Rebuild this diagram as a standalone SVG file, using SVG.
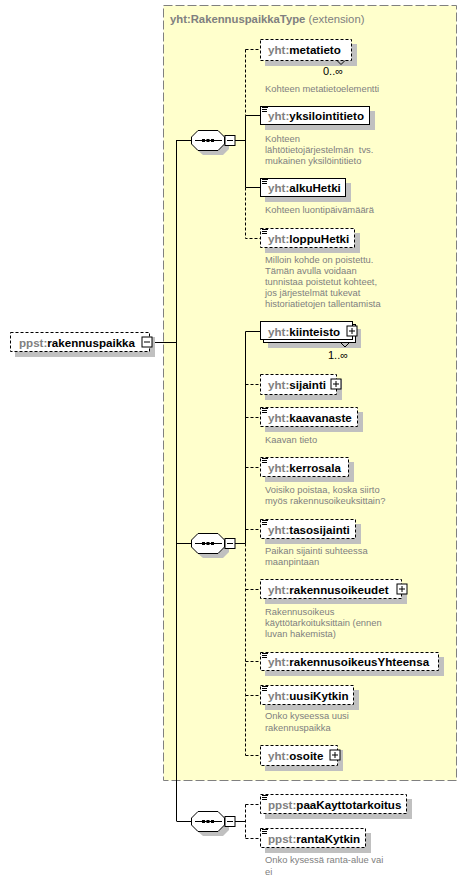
<svg xmlns="http://www.w3.org/2000/svg" width="467" height="881" viewBox="0 0 467 881">
<style>
.bg{fill:#ffffff}
.ext{fill:#ffffcc;stroke:#808080;stroke-width:1;stroke-dasharray:9,3}
.sh{fill:#c0c0c0;stroke:none}
.box{fill:#ffffff;stroke:#000;stroke-width:1}
.opt{fill:#ffffff;stroke:#000;stroke-width:1;stroke-dasharray:3,2}
.ln{fill:none;stroke:#000;stroke-width:1}
.dl{fill:none;stroke:#000;stroke-width:1;stroke-dasharray:3,2}
.nm{font-family:"Liberation Sans",Arial,sans-serif;font-size:11.6px;font-weight:bold;fill:#000}
.px{fill:#808080}
.ds{font-family:"Liberation Sans",Arial,sans-serif;font-size:9.4px;fill:#808080}
.mul{font-family:"Liberation Sans",Arial,sans-serif;font-size:11px;fill:#000}
.ttl{font-family:"Liberation Sans",Arial,sans-serif;font-size:11.3px;fill:#808080}
.ic{stroke:#000;stroke-width:1;fill:none}
</style>
<defs>
<g id="icon"><path class="ic" d="M2,1.5h6M2,3.5h5M2,5.5h5"/></g>
<g id="plus"><rect class="box" x="0.5" y="0.5" width="10" height="10"/><path class="ln" d="M2.5,5.5h6M5.5,2.5v6"/></g>
<g id="minus"><rect class="box" x="0.5" y="0.5" width="10" height="10"/><path class="ln" d="M2.5,5.5h6"/></g>
<g id="seq">
<polygon class="sh" points="203,5 223,5 229,12 229,19 223,25 203,25 196,19 196,12"/>
<polygon class="box" points="198,0.5 218,0.5 224.5,7 224.5,14 218,20.5 198,20.5 191.5,14 191.5,7"/>
<path class="ln" d="M195,10.5h27"/>
<rect x="202" y="9" width="3" height="3" fill="#000"/>
<rect x="206.5" y="9" width="3" height="3" fill="#000"/>
<rect x="211" y="9" width="3" height="3" fill="#000"/>
<use href="#minus" x="224.5" y="5"/>
</g>
</defs>
<rect class="bg" x="0" y="0" width="467" height="881"/>

<g id="extension">
<rect class="ext" x="163.5" y="5.5" width="293" height="775"/>
<text class="ttl" x="170" y="23"><tspan font-weight="bold">yht:RakennuspaikkaType</tspan> (extension)</text>
</g>

<g id="connectors">
<path class="ln" d="M152,342.5H176.5M176.5,140V821M176.5,140.5H191M176.5,543.5H191M176.5,821.5H191"/>
<path class="ln" d="M235,140.5H245.5M235,543.5H245.5M235,821.5H245.5"/>
<path class="dl" d="M245.5,49.5V115.5M245.5,49.5H260"/>
<path class="ln" d="M245.5,115.5V187.5M245.5,115.5H260M245.5,187.5H260"/>
<path class="dl" d="M245.5,187.5V238.5H260"/>
<path class="ln" d="M245.5,331.5V543.5M245.5,331.5H260"/>
<path class="dl" d="M245.5,543.5V755.5M245.5,384.5H260M245.5,417.5H260M245.5,467.5H260M245.5,529.5H260M245.5,589.5H260M245.5,661.5H260M245.5,695.5H260M245.5,755.5H260"/>
<path class="dl" d="M245.5,804.5V838.5M245.5,804.5H260M245.5,838.5H260"/>
</g>

<g id="rakennuspaikka">
<rect class="sh" x="15" y="337" width="140" height="20"/>
<rect class="opt" x="10.5" y="332.5" width="139" height="19"/>
<text class="nm" x="19" y="346.5"><tspan class="px">ppst:</tspan>rakennuspaikka</text>
<use href="#minus" x="141.5" y="336.5"/>
</g>

<g id="seq1"><use href="#seq" y="130"/></g>
<g id="seq2"><use href="#seq" y="533"/></g>
<g id="seq3"><use href="#seq" y="811"/></g>

<g id="metatieto">
<rect class="sh" x="265" y="44" width="92" height="22"/>
<rect class="opt" x="260.5" y="39.5" width="91" height="21"/>
<polyline class="ln" points="337,60.5 341,64.5 345,60.5"/>
<text class="nm" x="268" y="54"><tspan class="px">yht:</tspan>metatieto</text>
<text class="mul" x="323" y="75">0..∞</text>
<text class="ds" x="265" y="91.5">Kohteen metatietoelementti</text>
</g>

<g id="yksilointitieto">
<rect class="sh" x="265" y="111" width="110" height="19"/>
<rect class="box" x="260.5" y="106.5" width="109" height="18"/>
<use href="#icon" x="260" y="106"/>
<text class="nm" x="268" y="120"><tspan class="px">yht:</tspan>yksilointitieto</text>
<text class="ds" x="265" y="141.5">Kohteen</text>
<text class="ds" x="265" y="152.5">lähtötietojärjestelmän&#160; tvs.</text>
<text class="ds" x="265" y="163.5">mukainen yksilöintitieto</text>
</g>

<g id="alkuHetki">
<rect class="sh" x="265" y="183" width="86" height="19"/>
<rect class="box" x="260.5" y="178.5" width="85" height="18"/>
<use href="#icon" x="260" y="178"/>
<text class="nm" x="268" y="192"><tspan class="px">yht:</tspan>alkuHetki</text>
<text class="ds" x="265" y="213">Kohteen luontipäivämäärä</text>
</g>

<g id="loppuHetki">
<rect class="sh" x="265" y="233" width="95" height="20"/>
<rect class="opt" x="260.5" y="228.5" width="94" height="19"/>
<use href="#icon" x="260" y="228"/>
<text class="nm" x="268" y="242.5"><tspan class="px">yht:</tspan>loppuHetki</text>
<text class="ds" x="265" y="262.5">Milloin kohde on poistettu.</text>
<text class="ds" x="265" y="273.5">Tämän avulla voidaan</text>
<text class="ds" x="265" y="284.7">tunnistaa poistetut kohteet,</text>
<text class="ds" x="265" y="296">jos järjestelmät tukevat</text>
<text class="ds" x="265" y="307">historiatietojen tallentamista</text>
</g>

<g id="kiinteisto">
<rect class="sh" x="268" y="329" width="93" height="19"/>
<rect class="box" x="263.5" y="324.5" width="92" height="18"/>
<rect class="box" x="260.5" y="321.5" width="92" height="18"/>
<polyline class="ln" points="341,343 345,347 349,343"/>
<text class="nm" x="268" y="335.5"><tspan class="px">yht:</tspan>kiinteisto</text>
<use href="#plus" x="346.5" y="325.5"/>
<text class="mul" x="328" y="359">1..∞</text>
</g>

<g id="sijainti">
<rect class="sh" x="265" y="379" width="77" height="21"/>
<rect class="opt" x="260.5" y="374.5" width="76" height="20"/>
<text class="nm" x="268" y="389"><tspan class="px">yht:</tspan>sijainti</text>
<use href="#plus" x="330.5" y="378.5"/>
</g>

<g id="kaavanaste">
<rect class="sh" x="265" y="412" width="98" height="20"/>
<rect class="opt" x="260.5" y="407.5" width="97" height="19"/>
<use href="#icon" x="260" y="407"/>
<text class="nm" x="268" y="421.5"><tspan class="px">yht:</tspan>kaavanaste</text>
<text class="ds" x="265" y="442.5">Kaavan tieto</text>
</g>

<g id="kerrosala">
<rect class="sh" x="265" y="462" width="89" height="20"/>
<rect class="opt" x="260.5" y="457.5" width="88" height="19"/>
<use href="#icon" x="260" y="457"/>
<text class="nm" x="268" y="471.5"><tspan class="px">yht:</tspan>kerrosala</text>
<text class="ds" x="265" y="493">Voisiko poistaa, koska siirto</text>
<text class="ds" x="265" y="504">myös rakennusoikeuksittain?</text>
</g>

<g id="tasosijainti">
<rect class="sh" x="265" y="524" width="96" height="20"/>
<rect class="opt" x="260.5" y="519.5" width="95" height="19"/>
<use href="#icon" x="260" y="519"/>
<text class="nm" x="268" y="533.5"><tspan class="px">yht:</tspan>tasosijainti</text>
<text class="ds" x="265" y="554">Paikan sijainti suhteessa</text>
<text class="ds" x="265" y="565">maanpintaan</text>
</g>

<g id="rakennusoikeudet">
<rect class="sh" x="265" y="584" width="142" height="20"/>
<rect class="opt" x="260.5" y="579.5" width="141" height="19"/>
<text class="nm" x="268" y="593.5"><tspan class="px">yht:</tspan>rakennusoikeudet</text>
<use href="#plus" x="396.5" y="583.5"/>
<text class="ds" x="265" y="615">Rakennusoikeus</text>
<text class="ds" x="265" y="626">käyttötarkoituksittain (ennen</text>
<text class="ds" x="265" y="637">luvan hakemista)</text>
</g>

<g id="rakennusoikeusYhteensa">
<rect class="sh" x="265" y="657" width="179" height="19"/>
<rect class="opt" x="260.5" y="652.5" width="178" height="18"/>
<use href="#icon" x="260" y="652"/>
<text class="nm" x="268" y="666"><tspan class="px">yht:</tspan>rakennusoikeusYhteensa</text>
</g>

<g id="uusiKytkin">
<rect class="sh" x="265" y="690" width="94" height="20"/>
<rect class="opt" x="260.5" y="685.5" width="93" height="19"/>
<use href="#icon" x="260" y="685"/>
<text class="nm" x="268" y="699.5"><tspan class="px">yht:</tspan>uusiKytkin</text>
<text class="ds" x="265" y="719.3">Onko kyseessa uusi</text>
<text class="ds" x="265" y="730.5">rakennuspaikka</text>
</g>

<g id="osoite">
<rect class="sh" x="265" y="750" width="78" height="21"/>
<rect class="opt" x="260.5" y="745.5" width="77" height="20"/>
<text class="nm" x="268" y="760"><tspan class="px">yht:</tspan>osoite</text>
<use href="#plus" x="329.5" y="749.5"/>
</g>

<g id="paaKayttotarkoitus">
<rect class="sh" x="265" y="799" width="147" height="20"/>
<rect class="opt" x="260.5" y="794.5" width="146" height="19"/>
<use href="#icon" x="260" y="794"/>
<text class="nm" x="268" y="808.5"><tspan class="px">ppst:</tspan>paaKayttotarkoitus</text>
</g>

<g id="rantaKytkin">
<rect class="sh" x="265" y="833" width="106" height="20"/>
<rect class="opt" x="260.5" y="828.5" width="105" height="19"/>
<use href="#icon" x="260" y="828"/>
<text class="nm" x="268" y="842.5"><tspan class="px">ppst:</tspan>rantaKytkin</text>
<text class="ds" x="265" y="863.3">Onko kysessä ranta-alue vai</text>
<text class="ds" x="265" y="874.5">ei</text>
</g>
</svg>
